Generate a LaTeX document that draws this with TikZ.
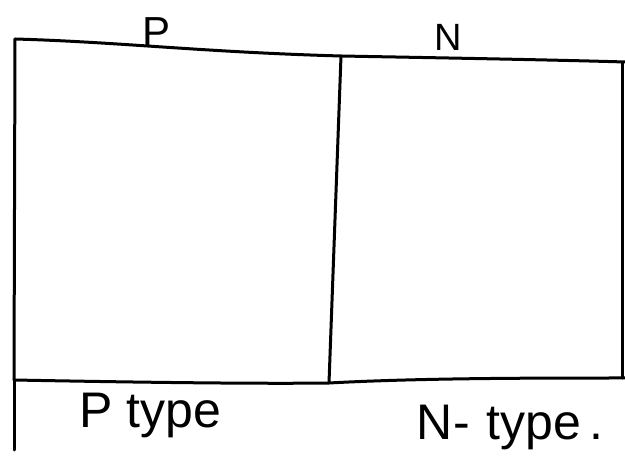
\documentclass[tikz,border=0pt]{standalone}
\usepackage{fontspec}
\setmainfont{Liberation Sans}
\begin{document}
\begin{tikzpicture}[x=1pt,y=-1pt,
  pen/.style={line width=3pt,line cap=round,line join=round,black},
  lbl/.style={anchor=base,inner sep=0pt}]
\useasboundingbox (0,0) rectangle (625,457);
\coordinate (tl) at (15,39);
\coordinate (tm) at (341,56);
\coordinate (tr) at (625,62);
\coordinate (bl) at (14,380);
\coordinate (bm) at (329,383);
\coordinate (br) at (625,378);
\coordinate (ll) at (14,450);
% outline
\draw[pen] (tl) .. controls (120,42) and (200,52) .. (tm) .. controls (450,58) and (560,60) .. (tr);
\draw[pen] (tl) -- (bl);
\draw[pen] (bl) -- (ll);
\draw[pen] (tm) -- (bm);
\draw[pen] (bl) .. controls (120,382) and (250,384) .. (bm) .. controls (420,378) and (540,378) .. (br);
\draw[pen] (622,63) -- (622,378);
% labels
\node[lbl,font=\fontsize{42}{44}\selectfont] (p) at (157,47) {P};
\node[lbl,font=\fontsize{38}{40}\selectfont] (n) at (448,51) {N};
\node[lbl,font=\fontsize{50}{52}\selectfont] (pt) at (150,428) {P type};
\node[lbl,font=\fontsize{50}{52}\selectfont] (nt) at (510,440) {N-\,\,type\,.};
\end{tikzpicture}
\end{document}
